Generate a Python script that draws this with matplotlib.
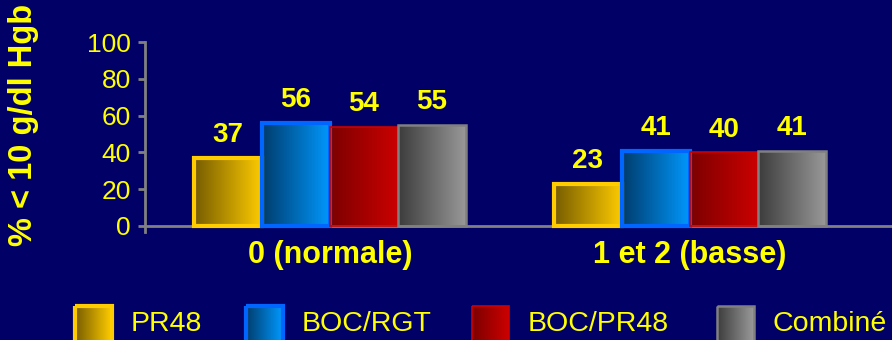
import numpy as np
import matplotlib
matplotlib.use("Agg")
from matplotlib import pyplot as plt
from matplotlib.patches import Rectangle
from matplotlib.colors import LinearSegmentedColormap

plt.rcParams['font.family'] = ['Liberation Sans', 'DejaVu Sans']

groups = ["0 (normale)", "1 et 2 (basse)"]
series = ["PR48", "BOC/RGT", "BOC/PR48", "Combiné"]
pr48 = [37, 23]
boc_rgt = [56, 41]
boc_pr48 = [54, 40]
combine = [55, 41]
values = [pr48, boc_rgt, boc_pr48, combine]

# (dark left, bright right, edge, edge width)
styles = [
    ("#765c00", "#ffcc00", "#ffcc00", 3.0),
    ("#003c6c", "#0099ff", "#0066ff", 3.0),
    ("#7c0000", "#cc0000", "#cc0000", 1.2),
    ("#3c3c3c", "#9a9a9a", "#808080", 1.8),
]

bg = "#000066"
yellow = "#ffff00"
grey = "#808080"

fig = plt.figure(figsize=(8.92, 3.4), dpi=100, facecolor=bg)
ax = fig.add_axes([145 / 892, 108.5 / 340, 747 / 892, 189.5 / 340])
ax.set_facecolor(bg)

grad = np.linspace(0, 1, 256).reshape(1, -1)


def gradient_fill(axis, rect, c0, c1):
    cmap = LinearSegmentedColormap.from_list("g", [c0, c1])
    x0, y0 = rect.get_x(), rect.get_y()
    im = axis.imshow(grad, cmap=cmap, aspect="auto", interpolation="bilinear",
                     extent=(x0, x0 + rect.get_width(), y0, y0 + rect.get_height()),
                     zorder=2)
    im.set_clip_path(rect)


x = np.arange(len(groups))
w = 0.189
for i, (vals, (c0, c1, ec, lw)) in enumerate(zip(values, styles)):
    pos = x + (i - 1.5) * w
    bars = ax.bar(pos, vals, w, facecolor="none", edgecolor=ec, linewidth=lw, zorder=3)
    for b, v in zip(bars, vals):
        gradient_fill(ax, b, c0, c1)
        ax.annotate(str(v), (b.get_x() + w / 2, v), xytext=(0, 7), textcoords="offset points",
                    ha="center", va="bottom", color=yellow, fontsize=20, fontweight="bold")

# group names under the axis
for xi, g in zip(x, groups):
    ax.annotate(g, (xi, 0), xytext=(0, -10), textcoords="offset points",
                ha="center", va="top", color=yellow, fontsize=22, fontweight="bold")

ax.set_xlim(-0.514, 1.561)
ax.set_ylim(-3, 100)
ax.set_yticks([0, 20, 40, 60, 80, 100])
ax.set_xticks([])
ax.tick_params(axis="y", colors=grey, labelcolor=yellow, labelsize=19,
               length=5, width=2, pad=5)
for s in ["top", "right"]:
    ax.spines[s].set_visible(False)
ax.spines["bottom"].set_position(("data", 0))
for s in ["left", "bottom"]:
    ax.spines[s].set_color(grey)
    ax.spines[s].set_linewidth(2)

fig.text(24 / 892, 1 - 125 / 340, "% < 10 g/dl Hgb", rotation=90, ha="center", va="center",
         color=yellow, fontsize=23.5, fontweight="bold")

# legend drawn in pixel coordinates
lg = fig.add_axes([0, 0, 1, 1])
lg.axis("off")
lg.patch.set_alpha(0)
leg_x = [75, 246, 472, 717]
for lx, name, (c0, c1, ec, lw) in zip(leg_x, series, styles):
    sq = Rectangle((lx, 306), 37, 38, facecolor="none", edgecolor=ec, linewidth=lw, zorder=3)
    lg.add_patch(sq)
    cmap = LinearSegmentedColormap.from_list("g", [c0, c1])
    im = lg.imshow(grad, cmap=cmap, aspect="auto", extent=(lx, lx + 37, 344, 306), zorder=2)
    im.set_clip_path(sq)
    lg.text(lx + 56, 324, name, color=yellow, fontsize=20.5, va="center", ha="left")
lg.set_xlim(0, 892)
lg.set_ylim(340, 0)

fig.savefig("out.png", dpi=100, facecolor=bg)
